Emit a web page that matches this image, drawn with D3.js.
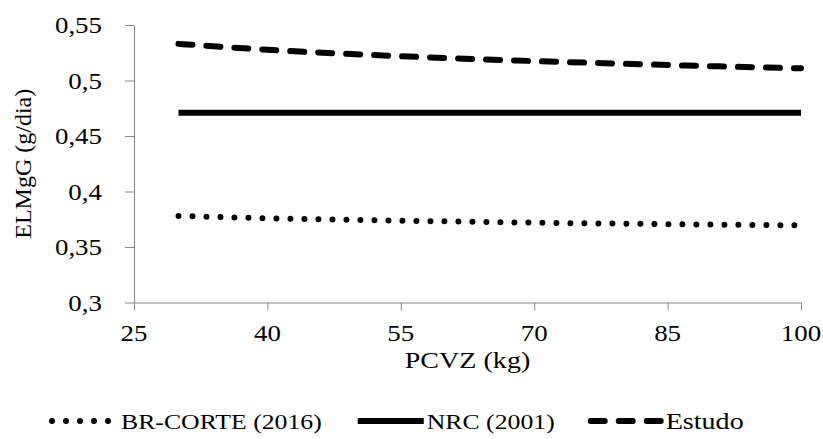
<!DOCTYPE html>
<html>
<head>
<meta charset="utf-8">
<script src="https://cdn.jsdelivr.net/npm/d3@7"></script>
<style>
html,body{margin:0;padding:0;background:#fff;}
svg{display:block;}
text{font-family:"Liberation Serif","Times New Roman",serif;fill:#000;}
</style>
</head>
<body>
<svg id="chart" width="823" height="439"></svg>
<script>
// ---- data ----
const pcvz = [30, 40, 50, 60, 70, 80, 90, 100];
const brCorte = [0.378, 0.3759, 0.3744, 0.3731, 0.3719, 0.3710, 0.3702, 0.3695];
const nrc = [0.471, 0.471, 0.471, 0.471, 0.471, 0.471, 0.471, 0.471];
const estudo = [0.533, 0.5277, 0.5236, 0.5203, 0.5175, 0.5151, 0.5129, 0.511];
const seriesNames = ["BR-CORTE (2016)", "NRC (2001)", "Estudo"];
const xTicks = [25, 40, 55, 70, 85, 100];
const yTicks = [0.3, 0.35, 0.4, 0.45, 0.5, 0.55];
const xTitle = "PCVZ (kg)";
const yTitle = "ELMgG (g/dia)";

// ---- layout ----
const SX = 1.17;           // horizontal stretch of text in the original
const svg = d3.select("#chart");
const x = d3.scaleLinear().domain([25, 100]).range([134, 801]);
const y = d3.scaleLinear().domain([0.3, 0.55]).range([302.5, 25]);
const axisColor = "#868686";
const fmt = v => String(v).replace(".", ",");

function stxt(g, str, tx, ty, anchor, size) {
  return g.append("text")
    .attr("transform", `translate(${tx},${ty}) scale(${SX},1)`)
    .attr("text-anchor", anchor)
    .style("font-size", size + "px")
    .text(str);
}

// y axis
const yAxis = svg.append("g").attr("transform", `translate(${x(25)},0)`)
  .call(d3.axisLeft(y).tickValues(yTicks).tickSize(9).tickSizeOuter(0).tickFormat(() => ""));
yAxis.select(".domain").attr("stroke", axisColor);
yAxis.selectAll(".tick line").attr("stroke", axisColor);
yAxis.selectAll(".tick text").remove();
yTicks.forEach(v => stxt(svg, fmt(v), 102, y(v) + 8, "end", 23));

// x axis
const xAxis = svg.append("g").attr("transform", `translate(0,${y(0.3)})`)
  .call(d3.axisBottom(x).tickValues(xTicks).tickSize(8).tickSizeOuter(0).tickFormat(() => ""));
xAxis.select(".domain").attr("stroke", axisColor);
xAxis.selectAll(".tick line").attr("stroke", axisColor);
xTicks.forEach(v => stxt(svg, fmt(v), x(v), 341, "middle", 23));

// titles
stxt(svg, xTitle, (x(25) + x(100)) / 2, 368, "middle", 24);
svg.append("text")
  .attr("transform", `translate(31,${(y(0.3) + y(0.55)) / 2}) rotate(-90)`)
  .attr("text-anchor", "middle")
  .style("font-size", "24px")
  .text(yTitle);

// lines
const styles = [
  {data: brCorte, dash: "0 14", cap: "round", w: 66},
  {data: nrc, dash: null, cap: "butt", w: 66},
  {data: estudo, dash: "14 14", cap: "round", w: 72}
];
const line = d3.line().x(d => x(d[0])).y(d => y(d[1])).curve(d3.curveMonotoneX);
styles.forEach(s => {
  svg.append("path")
    .datum(pcvz.map((p, i) => [p, s.data[i]]))
    .attr("d", line)
    .attr("fill", "none")
    .attr("stroke", "#000")
    .attr("stroke-width", 6)
    .attr("stroke-linecap", s.cap)
    .attr("stroke-dasharray", s.dash);
});

// legend
const legY = 421;
let lx = 52;
styles.forEach((s, i) => {
  svg.append("line")
    .attr("x1", lx).attr("x2", lx + s.w)
    .attr("y1", legY).attr("y2", legY)
    .attr("stroke", "#000").attr("stroke-width", 6)
    .attr("stroke-linecap", s.cap)
    .attr("stroke-dasharray", s.dash);
  const t = stxt(svg, seriesNames[i], lx + s.w + 3, legY + 8, "start", i === 2 ? 24 : 22);
  const w = t.node().getComputedTextLength() * SX;
  lx += s.w + 3 + w + 36;
});
</script>
</body>
</html>
